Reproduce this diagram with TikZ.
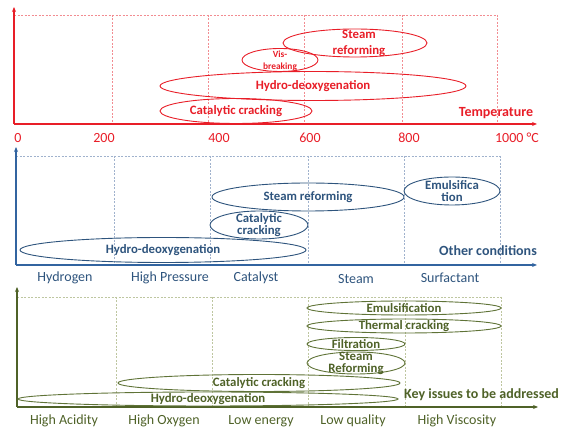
\documentclass[tikz,border=0pt]{standalone}
\usepackage{fontspec}
\setmainfont{Carlito}
\usetikzlibrary{shapes.geometric,arrows.meta}
\definecolor{cred}{RGB}{232,30,40}
\definecolor{credl}{RGB}{242,140,145}
\definecolor{cblue}{RGB}{46,84,125}
\definecolor{cbluea}{RGB}{50,100,160}
\definecolor{cbluel}{RGB}{160,178,205}
\definecolor{cgreen}{RGB}{79,98,40}
\definecolor{cgreene}{RGB}{95,115,55}
\definecolor{cgreenl}{RGB}{190,198,160}
\begin{document}
\begin{tikzpicture}[x=1pt,y=-1pt,
 axis/.style={line width=1.6pt,-{Stealth[length=5pt,width=4pt]}},
 grid/.style={dash pattern=on 2pt off 1.5pt, line width=0.5pt},
 ell/.style={ellipse, draw, line width=0.9pt, inner sep=0pt},
 etxt/.style={font=\fontsize{12.8}{12}\selectfont\bfseries, align=center, inner sep=0pt},
 ttl/.style={font=\fontsize{14}{16}\selectfont\bfseries, inner sep=0pt},
 tick/.style={font=\fontsize{14}{16}\selectfont, inner sep=0pt},
]
\useasboundingbox (0,0) rectangle (563,427);

% ---------- Panel 1 (red) ----------
\draw[grid,credl] (14,15) -- (497,15);
\foreach \x in {112,208,304,402,497} \draw[grid,credl] (\x,15) -- (\x,124);
\coordinate (o1) at (14,124);
\coordinate (x1) at (537,124);
\coordinate (y1) at (14,7);
\draw[axis,cred] (o1) -- (x1);
\draw[axis,cred] (o1) -- (y1);

\node[ell,draw=cred,minimum width=152pt,minimum height=25pt,
  label={[etxt,text=cred]center:Catalytic cracking}] (r1) at (236,111) {};
\node[ell,draw=cred,minimum width=306pt,minimum height=29pt,
  label={[etxt,text=cred]center:Hydro-deoxygenation}] (r2) at (313,86) {};
\node[ell,draw=cred,minimum width=76pt,minimum height=23pt,
  label={[etxt,text=cred,font=\fontsize{9.4}{12}\selectfont\bfseries,yshift=-1pt]center:Vis-\\breaking}] (r3) at (280,60) {};
\node[ell,draw=cred,minimum width=144pt,minimum height=28pt,
  label={[etxt,text=cred,font=\fontsize{12.8}{16}\selectfont\bfseries,xshift=4pt]center:Steam\\reforming}] (r4) at (355,43) {};

\node[ttl,text=cred] (tt1) at (496,113) {Temperature};
\node[tick,text=cred] (t0) at (18,138) {0};
\node[tick,text=cred] (t200) at (104,138) {200};
\node[tick,text=cred] (t400) at (219,138) {400};
\node[tick,text=cred] (t600) at (310,138) {600};
\node[tick,text=cred] (t800) at (409,138) {800};
\node[tick,text=cred] (t1000) at (517,138) {1000 °C};

% ---------- Panel 2 (blue) ----------
\draw[grid,cbluel] (16,156) -- (500,156);
\foreach \x in {114,210,308,404,500} \draw[grid,cbluel] (\x,156) -- (\x,265);
\coordinate (o2) at (16,265);
\coordinate (x2) at (537,265);
\coordinate (y2) at (16,147);
\draw[axis,cbluea] (o2) -- (x2);
\draw[axis,cbluea] (o2) -- (y2);

\node[ell,draw=cblue,minimum width=286pt,minimum height=25pt,
  label={[etxt,text=cblue]center:Hydro-deoxygenation}] (b1) at (163,250) {};
\node[ell,draw=cblue,minimum width=98pt,minimum height=28pt,
  label={[etxt,text=cblue]center:Catalytic\\cracking}] (b2) at (259,225) {};
\node[ell,draw=cblue,minimum width=192pt,minimum height=28pt,
  label={[etxt,text=cblue]center:Steam reforming}] (b3) at (308,197) {};
\node[ell,draw=cblue,minimum width=96pt,minimum height=28pt,
  label={[etxt,text=cblue]center:Emulsifica\\tion}] (b4) at (452,191) {};

\node[ttl,text=cblue] (tt2) at (488,251) {Other conditions};
\node[tick,text=cblue] (c1) at (65,278) {Hydrogen};
\node[tick,text=cblue] (c2) at (170,278) {High Pressure};
\node[tick,text=cblue] (c3) at (256,278) {Catalyst};
\node[tick,text=cblue] (c4) at (356,279) {Steam};
\node[tick,text=cblue] (c5) at (450,278) {Surfactant};

% ---------- Panel 3 (green) ----------
\draw[grid,cgreenl] (17,297) -- (501,297);
\foreach \x in {116,212,308,405,501} \draw[grid,cgreenl] (\x,297) -- (\x,407);
\coordinate (o3) at (17,407);
\coordinate (x3) at (538,407);
\coordinate (y3) at (17,287);
\draw[axis,cgreen] (o3) -- (x3);
\draw[axis,cgreen] (o3) -- (y3);

\node[ell,draw=cgreene,minimum width=380pt,minimum height=14pt,
  label={[etxt,text=cgreen]center:Hydro-deoxygenation}] (g1) at (208,399) {};
\node[ell,draw=cgreene,minimum width=282pt,minimum height=17pt,
  label={[etxt,text=cgreen]center:Catalytic cracking}] (g2) at (259,383) {};
\node[ell,draw=cgreene,minimum width=98pt,minimum height=22pt,
  label={[etxt,text=cgreen]center:Steam\\Reforming}] (g3) at (356,363) {};
\node[ell,draw=cgreene,minimum width=98pt,minimum height=13pt,
  label={[etxt,text=cgreen]center:Filtration}] (g4) at (356,344) {};
\node[ell,draw=cgreene,minimum width=194pt,minimum height=14pt,
  label={[etxt,text=cgreen]center:Thermal cracking}] (g5) at (404,326) {};
\node[ell,draw=cgreene,minimum width=194pt,minimum height=14pt,
  label={[etxt,text=cgreen]center:Emulsification}] (g6) at (404,308) {};

\node[ttl,text=cgreen,anchor=west] (tt3) at (404,395) {Key issues to be addressed};
\node[tick,text=cgreen] (k1) at (64,421) {High Acidity};
\node[tick,text=cgreen] (k2) at (164,421) {High Oxygen};
\node[tick,text=cgreen] (k3) at (261,421) {Low energy};
\node[tick,text=cgreen] (k4) at (353,421) {Low quality};
\node[tick,text=cgreen] (k5) at (457,421) {High Viscosity};
\end{tikzpicture}
\end{document}
